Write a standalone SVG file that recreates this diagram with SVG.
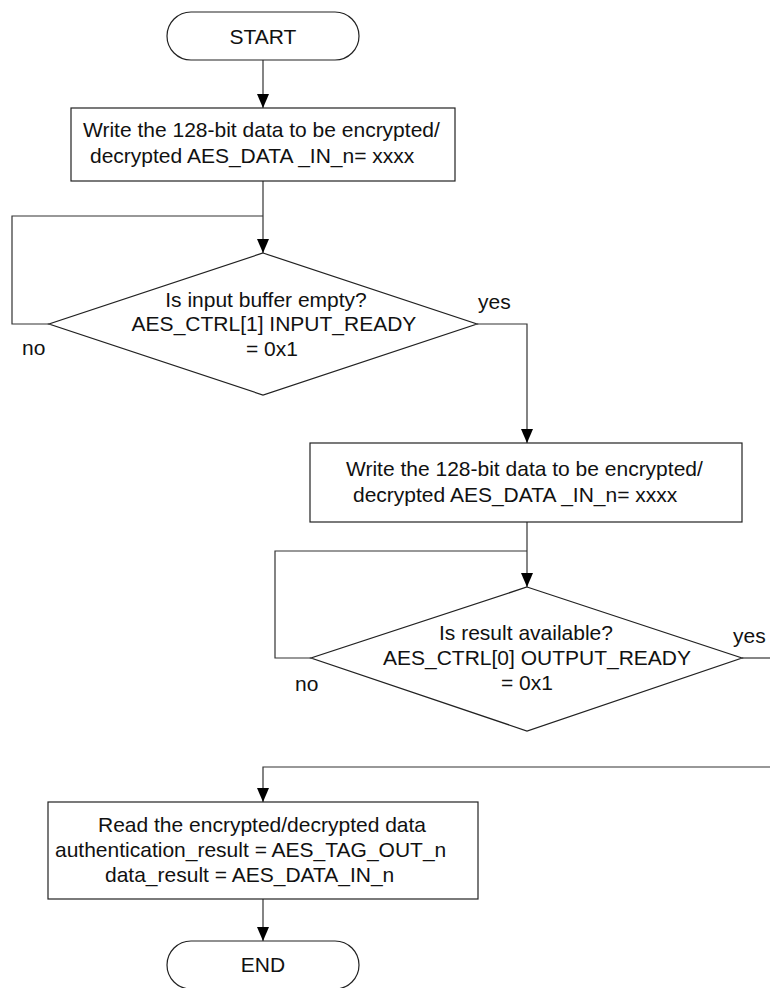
<svg xmlns="http://www.w3.org/2000/svg" width="770" height="988" viewBox="0 0 770 988">
<defs>
<marker id="arr" markerUnits="userSpaceOnUse" markerWidth="14" markerHeight="12" refX="14" refY="6" orient="auto" viewBox="0 0 14 12">
<path d="M0,0 L14,6 L0,12 Z" fill="#000"/>
</marker>
</defs>
<style>
.s{fill:#fff;stroke:#222;stroke-width:1.2}
.c{fill:none;stroke:#333;stroke-width:1.2}
.t{font-family:"Liberation Sans",Arial,sans-serif;font-size:21px;fill:#111}
.m{text-anchor:middle}
</style>
<rect width="770" height="988" fill="#fff"/>
<g id="connectors">
<path class="c" d="M263,60 V108" marker-end="url(#arr)"/>
<path class="c" d="M263,181 V253" marker-end="url(#arr)"/>
<path class="c" d="M49,324 H12 V216 H263"/>
<path class="c" d="M477,324 H527 V443" marker-end="url(#arr)"/>
<path class="c" d="M527,522 V587" marker-end="url(#arr)"/>
<path class="c" d="M311,658 H275 V551 H527"/>
<path class="c" d="M742,658 H770"/>
<path class="c" d="M770,767 H263 V802" marker-end="url(#arr)"/>
<path class="c" d="M263,899 V941" marker-end="url(#arr)"/>
</g>
<g id="start">
<rect class="s" x="167" y="12" width="192" height="48" rx="24"/>
<text class="t m" x="263" y="43.5">START</text>
</g>
<g id="write1">
<rect class="s" x="71" y="108" width="384" height="73"/>
<text class="t" x="83" y="137">Write the 128-bit data to be encrypted/</text>
<text class="t" x="90" y="163">decrypted AES_DATA _IN_n= xxxx</text>
</g>
<g id="check-input">
<polygon class="s" points="263,253 477,324 263,395 49,324"/>
<text class="t m" x="266" y="307">Is input buffer empty?</text>
<text class="t m" x="274" y="331">AES_CTRL[1] INPUT_READY</text>
<text class="t m" x="272" y="356">= 0x1</text>
<text class="t" x="22" y="355">no</text>
<text class="t" x="478" y="309">yes</text>
</g>
<g id="write2">
<rect class="s" x="310" y="443" width="432" height="79"/>
<text class="t" x="346" y="476">Write the 128-bit data to be encrypted/</text>
<text class="t" x="353" y="502">decrypted AES_DATA _IN_n= xxxx</text>
</g>
<g id="check-output">
<polygon class="s" points="527,587 742,658 527,731 311,658"/>
<text class="t m" x="526" y="640">Is result available?</text>
<text class="t m" x="537" y="665">AES_CTRL[0] OUTPUT_READY</text>
<text class="t m" x="527" y="690">= 0x1</text>
<text class="t" x="295" y="691">no</text>
<text class="t" x="733" y="643">yes</text>
</g>
<g id="read">
<rect class="s" x="48" y="802" width="430" height="97"/>
<text class="t" x="98" y="832">Read the encrypted/decrypted data</text>
<text class="t" x="55" y="857">authentication_result = AES_TAG_OUT_n</text>
<text class="t" x="105" y="882">data_result = AES_DATA_IN_n</text>
</g>
<g id="end">
<rect class="s" x="167" y="941" width="192" height="48" rx="24"/>
<text class="t m" x="263" y="972">END</text>
</g>
</svg>
